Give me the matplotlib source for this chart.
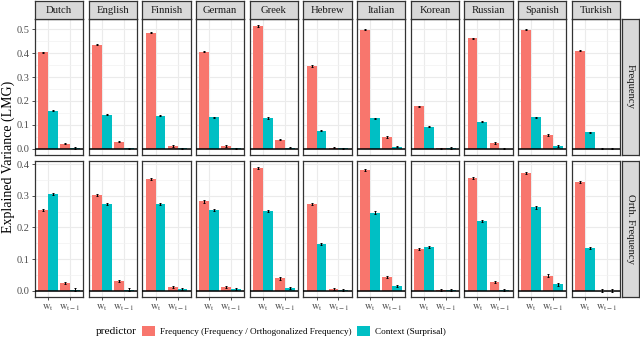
import matplotlib
matplotlib.use("Agg")
import matplotlib.pyplot as plt
from matplotlib.patches import Patch
import numpy as np

plt.rcParams['font.family'] = ['Liberation Serif', 'DejaVu Serif']
plt.rcParams['mathtext.fontset'] = 'stix'

languages = ['Dutch', 'English', 'Finnish', 'German', 'Greek', 'Hebrew',
             'Italian', 'Korean', 'Russian', 'Spanish', 'Turkish']
rows = ['Frequency', 'Orth. Frequency']
xlabels = [r'$\mathrm{w}_{\mathrm{t}}$', r'$\mathrm{w}_{\mathrm{t-1}}$']

# Frequency row: [w_t, w_t-1] per language
freq_freq = [[0.403, 0.022], [0.436, 0.029], [0.486, 0.012], [0.406, 0.012],
             [0.514, 0.038], [0.346, 0.004], [0.499, 0.049], [0.178, 0.002],
             [0.462, 0.024], [0.499, 0.058], [0.410, 0.001]]
freq_ctx = [[0.160, 0.003], [0.143, 0.002], [0.139, 0.002], [0.131, 0.002],
            [0.129, 0.005], [0.075, 0.002], [0.128, 0.008], [0.093, 0.003],
            [0.114, 0.001], [0.132, 0.012], [0.069, 0.001]]
# Orth. Frequency row
orth_freq = [[0.255, 0.024], [0.302, 0.031], [0.352, 0.011], [0.282, 0.011],
             [0.387, 0.039], [0.274, 0.005], [0.381, 0.044], [0.133, 0.003],
             [0.355, 0.027], [0.371, 0.048], [0.344, 0.001]]
orth_ctx = [[0.305, 0.004], [0.274, 0.004], [0.274, 0.005], [0.256, 0.005],
            [0.253, 0.008], [0.148, 0.002], [0.247, 0.014], [0.137, 0.003],
            [0.221, 0.002], [0.263, 0.020], [0.135, 0.001]]
err = [0.0025, 0.0035]

series = [(freq_freq, freq_ctx), (orth_freq, orth_ctx)]
ylims = [(-0.026, 0.543), (-0.0195, 0.4095)]
yticks = [np.arange(0, 0.51, 0.1), np.arange(0, 0.41, 0.1)]

RED = '#F8766D'
TEAL = '#00BFC4'
BORDER = '#333333'
STRIP = '#D9D9D9'

W, H = 640, 344
fig = plt.figure(figsize=(6.4, 3.44), dpi=100)

def px(x0, y0, x1, y1):
    return [x0 / W, 1 - y1 / H, (x1 - x0) / W, (y1 - y0) / H]

left, right = 35, 620
gap = 5.3
pw = (right - left - gap * 10) / 11
row_y = [(19, 155), (161, 297)]

bw = 0.45
for r in range(2):
    fr, cx = series[r]
    for i, lang in enumerate(languages):
        x0 = left + i * (pw + gap)
        ax = fig.add_axes(px(x0, row_y[r][0], x0 + pw, row_y[r][1]))
        ax.set_facecolor('white')
        xs = np.array([1, 2])
        ax.bar(xs - bw / 2, fr[i], bw, color=RED, zorder=3)
        ax.bar(xs + bw / 2, cx[i], bw, color=TEAL, zorder=3)
        ax.errorbar(xs - bw / 2, fr[i], yerr=err[r], fmt='none', ecolor='black',
                    elinewidth=0.7, capsize=0.8, capthick=0.7, zorder=4)
        ax.errorbar(xs + bw / 2, cx[i], yerr=err[r], fmt='none', ecolor='black',
                    elinewidth=0.7, capsize=0.8, capthick=0.7, zorder=4)
        ax.axhline(0, color='black', lw=1.1, zorder=5)
        ax.set_xlim(0.4, 2.6)
        ax.set_ylim(*ylims[r])
        ax.set_yticks(yticks[r])
        ax.set_yticks(np.arange(0.05, ylims[r][1], 0.1), minor=True)
        ax.set_xticks(xs)
        ax.grid(True, which='major', color='#EBEBEB', lw=0.8, zorder=0)
        ax.grid(True, which='minor', axis='y', color='#F2F2F2', lw=0.5, zorder=0)
        ax.tick_params(which='minor', length=0)
        ax.tick_params(which='major', length=2.5, width=0.6, color=BORDER,
                       labelsize=7.5, labelcolor='#4D4D4D', pad=1.5)
        if i == 0:
            ax.set_yticklabels(['%.1f' % v for v in yticks[r]])
        else:
            ax.set_yticklabels([])
            ax.tick_params(axis='y', length=0)
        if r == 1:
            ax.set_xticklabels(xlabels)
        else:
            ax.set_xticklabels([])
            ax.tick_params(axis='x', length=0)
        for s in ax.spines.values():
            s.set_color(BORDER)
            s.set_linewidth(0.9)

        if r == 0:
            sax = fig.add_axes(px(x0, 1, x0 + pw, 19))
            sax.set_facecolor(STRIP)
            sax.set_xticks([]); sax.set_yticks([])
            for s in sax.spines.values():
                s.set_color(BORDER); s.set_linewidth(0.9)
            sax.text(0.5, 0.45, lang, ha='center', va='center', fontsize=7.7,
                     color='#1A1A1A', transform=sax.transAxes)

    # right strip
    sax = fig.add_axes(px(621.5, row_y[r][0], 639.3, row_y[r][1]))
    sax.set_facecolor(STRIP)
    sax.set_xticks([]); sax.set_yticks([])
    for s in sax.spines.values():
        s.set_color(BORDER); s.set_linewidth(0.9)
    sax.text(0.5, 0.5, rows[r], ha='center', va='center', rotation=-90,
             fontsize=7.7, color='#1A1A1A', transform=sax.transAxes)

fig.text(8 / W, 1 - 157 / H, 'Explained Variance (LMG)', rotation=90,
         ha='center', va='center', fontsize=10)

fig.text(96 / W, 1 - 331 / H, 'predictor', ha='left', va='center', fontsize=8.2)
handles = [Patch(facecolor=RED, edgecolor='none'), Patch(facecolor=TEAL, edgecolor='none')]
fig.legend(handles, ['Frequency (Frequency / Orthogonalized Frequency)', 'Context (Surprisal)'],
           loc='center left', bbox_to_anchor=(142 / W, 1 - 331 / H), ncol=2,
           frameon=False, fontsize=6.6, borderpad=0, borderaxespad=0,
           handlelength=1.45, handleheight=1.45, handletextpad=0.55,
           columnspacing=0.55)

fig.savefig('out.png', dpi=100)
